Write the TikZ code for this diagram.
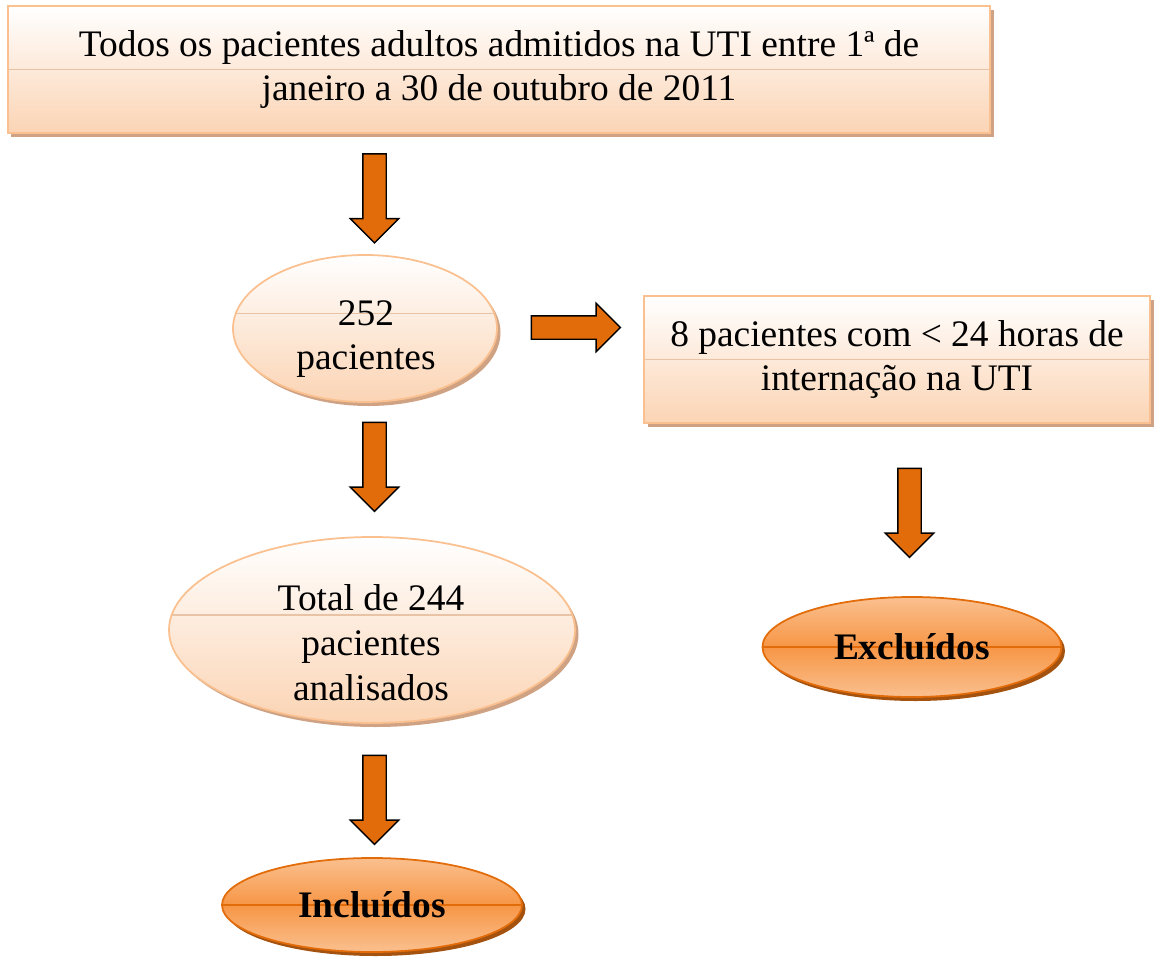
\documentclass[tikz,border=0pt]{standalone}
\usepackage{fontspec}
\setmainfont{Liberation Serif}
\usetikzlibrary{shapes.geometric,shapes.arrows,shadows}

\definecolor{peachline}{HTML}{FAC08F}
\definecolor{peachfill}{HTML}{FBD4B4}
\definecolor{peachmid}{HTML}{E9C3A6}
\definecolor{peachshadow}{HTML}{CFA283}
\definecolor{orangefill}{HTML}{F79646}
\definecolor{orangedark}{HTML}{E36C0A}
\definecolor{brownshadow}{HTML}{A4520F}

\begin{document}
\begin{tikzpicture}[font=\fontsize{21.3}{25.5}\selectfont,
  box node/.style={rectangle,draw=peachline,line width=1pt,top color=white,bottom color=peachfill,
    align=center,drop shadow={shadow xshift=0.07cm,shadow yshift=-0.08cm,fill=peachshadow,opacity=1},
    path picture={\draw[peachmid] (path picture bounding box.west) -- (path picture bounding box.east);}},
  oval node/.style={ellipse,draw=peachline,line width=1pt,top color=white,bottom color=peachfill,
    drop shadow={shadow xshift=0.07cm,shadow yshift=-0.08cm,fill=peachshadow,opacity=1},
    path picture={\draw[peachmid] ([yshift=0.3cm]path picture bounding box.west) -- ([yshift=0.3cm]path picture bounding box.east);}},
  oval text/.style={align=center,inner sep=0pt},
  end node/.style={ellipse,draw=orangedark,line width=1pt,top color=peachline,bottom color=peachline,middle color=orangefill,
    font=\fontsize{21.3}{25.5}\selectfont\bfseries,inner sep=0pt,
    drop shadow={shadow xshift=0.07cm,shadow yshift=-0.08cm,fill=brownshadow,opacity=1},
    path picture={\draw[orangedark] (path picture bounding box.west) -- (path picture bounding box.east);}},
  block arrow/.style={single arrow,draw=black,line width=0.8pt,fill=orangedark,inner sep=0.22cm,
    minimum height=1.78cm,minimum width=0.94cm,single arrow head extend=0.25cm}]

  \useasboundingbox (0,0) rectangle (23.08,-19.22);

  \node[box node,minimum width=19.64cm,minimum height=2.54cm] (all) at (9.98,-1.39)
    {Todos os pacientes adultos admitidos na UTI entre 1ª de\\janeiro a 30 de outubro de 2011};

  \node[oval node,minimum width=5.28cm,minimum height=2.94cm] (pac) at (7.30,-6.57) {};
  \node[oval text] (pac text) at (7.32,-6.78) {252\\pacientes};

  \node[box node,minimum width=10.12cm,minimum height=2.54cm] (short) at (17.94,-7.19)
    {8 pacientes com < 24 horas de\\internação na UTI};

  \node[oval node,minimum width=8.12cm,minimum height=3.72cm] (total) at (7.44,-12.6) {};
  \node[oval text] (total text) at (7.42,-12.86) {Total de 244\\pacientes\\analisados};

  \node[end node,minimum width=6cm,minimum height=1.88cm] (inc) at (7.44,-18.1) {Incluídos};
  \node[end node,minimum width=5.98cm,minimum height=2cm] (exc) at (18.24,-12.94) {Excluídos};

  % block arrows between the steps
  \node[block arrow,shape border rotate=270] (a1) at (7.49,-3.85) {};
  \node[block arrow] (a2) at (11.40,-6.55) {};
  \node[block arrow,shape border rotate=270] (a3) at (7.49,-9.22) {};
  \node[block arrow,shape border rotate=270] (a4) at (7.49,-15.88) {};
  \node[block arrow,shape border rotate=270] (a5) at (18.19,-10.14) {};
\end{tikzpicture}
\end{document}
